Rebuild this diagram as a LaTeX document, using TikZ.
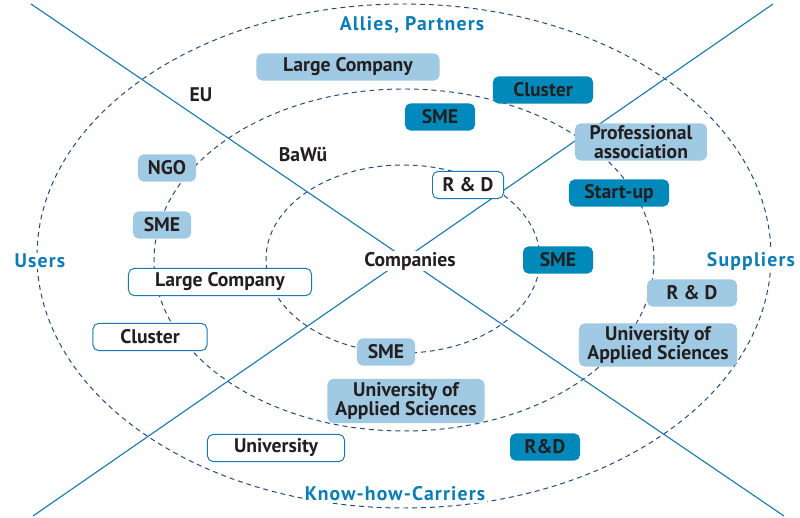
\documentclass[tikz,border=0pt]{standalone}
\usepackage{fontspec}
\setmainfont{PT Sans}
\usetikzlibrary{positioning}
\definecolor{paleblue}{RGB}{160,201,227}
\definecolor{deepteal}{RGB}{0,137,186}
\definecolor{ringblue}{RGB}{32,72,132}
\definecolor{crossblue}{RGB}{22,122,182}
\definecolor{labelblue}{RGB}{10,125,185}
\definecolor{inkblack}{RGB}{35,31,32}

\begin{document}
\begin{tikzpicture}[x=0.025cm, y=0.025cm,
  box/.style={rounded corners=4pt, align=center, font=\bfseries\fontsize{14}{13.5}\selectfont, text=inkblack, minimum height=0.68cm, inner sep=1pt},
  pale/.style={box, fill=paleblue},
  deep/.style={box, fill=deepteal},
  outlined/.style={box, draw=crossblue, line width=0.7pt, fill=white},
  ring/.style={draw=ringblue, dash pattern=on 3.5pt off 2.8pt, line width=0.7pt},
  cross/.style={draw=crossblue, line width=0.8pt},
  zone/.style={font=\bfseries\fontsize{14}{14}\selectfont\addfontfeatures{LetterSpace=6}, text=labelblue, fill=white, inner sep=1pt},
  tag/.style={font=\bfseries\fontsize{14}{14}\selectfont, text=inkblack, inner sep=1pt}
]
\useasboundingbox (0,0) rectangle (800,518);

% rings
\draw[ring] (404,262) ellipse [x radius=367, y radius=252];
\draw[ring] (404,258) ellipse [x radius=250, y radius=171];
\draw[ring] (403,259) ellipse [x radius=137, y radius=94];

% crossing lines
\coordinate (nw) at (31,514);
\coordinate (se) at (784,2);
\coordinate (ne) at (773,514);
\coordinate (sw) at (33,2);
\draw[cross] (nw) -- (se);
\draw[cross] (ne) -- (sw);

% quarter labels
\node[zone] (allies) at (412,493) {Allies, Partners};
\node[zone] (users) at (40,257) {Users};
\node[zone] (suppliers) at (751,257) {Suppliers};
\node[zone] (knowhow) at (395,24) {Know-how-Carriers};

% ring labels
\node[tag] (eu) at (201,423) {EU};
\node[tag] (bawu) at (303,363) {BaWü};
\node[tag, fill=white] (companies) at (410,257) {Companies};

% allies, partners
\node[pale, minimum width=4.575cm] (lcTop) at (348,451) {Large Company};
\node[deep, minimum width=2.5cm] (clusterTop) at (543,428) {Cluster};
\node[deep, minimum width=1.75cm] (smeTop) at (440,401) {SME};
\node[pale, minimum width=3.3cm, minimum height=0.93cm] (profAssoc) at (641,376) {Professional\\association};
\node[outlined, minimum width=1.775cm] (rdInner) at (468,333) {R \& D};

% suppliers
\node[deep, minimum width=2.5cm] (startup) at (619,325) {Start-up};
\node[deep, minimum width=1.75cm] (smeRight) at (558,258) {SME};
\node[pale, minimum width=2.25cm] (rdRight) at (692,225) {R \& D};
\node[pale, minimum width=3.95cm, minimum height=1.08cm] (uasRight) at (658,173) {University of\\Applied Sciences};

% users
\node[pale, minimum width=1.45cm] (ngo) at (167,350) {NGO};
\node[pale, minimum width=1.45cm] (smeLeft) at (162,293) {SME};
\node[outlined, minimum width=4.575cm] (lcLeft) at (220,236) {Large Company};
\node[outlined, minimum width=2.85cm] (clusterLeft) at (150,181) {Cluster};

% know-how-carriers
\node[pale, minimum width=1.45cm] (smeBottom) at (386,166) {SME};
\node[pale, minimum width=3.925cm, minimum height=1.1cm] (uasBottom) at (406,117) {University of\\Applied Sciences};
\node[outlined, minimum width=3.425cm] (university) at (276,70) {University};
\node[deep, minimum width=1.75cm] (rdBottom) at (545,71) {R\&D};
\end{tikzpicture}
\end{document}
